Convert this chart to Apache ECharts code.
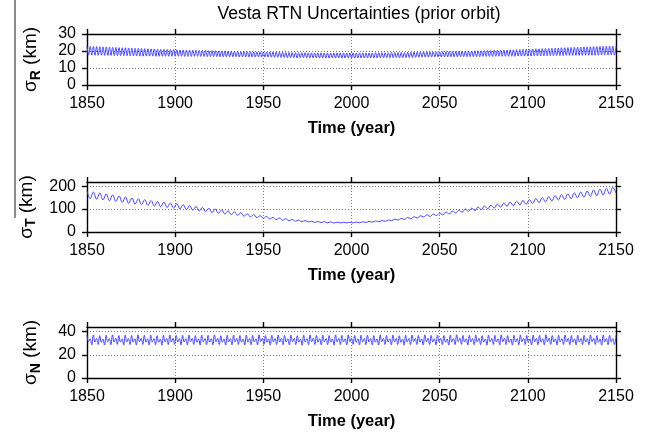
<!DOCTYPE html>
<html>
<head>
<meta charset="utf-8">
<script src="https://cdn.jsdelivr.net/npm/echarts@6/dist/echarts.min.js"></script>
<style>
  html, body { margin: 0; padding: 0; background: #fff; }
  #chart { width: 648px; height: 434px; }
</style>
</head>
<body>
<div id="chart"></div>
<script>
// Vesta 1-sigma position uncertainties (radial / transverse / normal), prior orbit
const TITLE = 'Vesta RTN Uncertainties (prior orbit)';
const YEAR_START = 1850;
const YEAR_END = 2150;
const YEAR_TICKS = [1850, 1900, 1950, 2000, 2050, 2100, 2150];
const X_NAME = 'Time (year)';
const Y_SUBSCRIPTS = ['R', 'T', 'N'];
const Y_TICKS = [[0, 10, 20, 30], [0, 100, 200], [0, 20, 40]];

// sigma_R (km), evenly sampled over 1850-2150
const SIGMA_R = [
  22.8,17.6,22.7,17.6,22.7,17.5,22.6,17.5,22.5,17.5,22.4,17.4,22.4,17.4,22.3,17.4,22.2,17.3,22.1,17.3,22.0,17.2,
  21.9,17.2,21.9,17.2,21.8,17.1,21.7,17.1,21.6,17.1,21.6,17.0,21.5,17.0,21.4,17.0,21.3,17.0,21.2,17.0,21.2,16.9,
  21.1,16.9,21.0,16.9,21.0,16.9,20.9,16.9,20.8,16.9,20.8,16.9,20.7,16.9,20.6,16.9,20.6,16.8,20.5,16.8,20.5,16.8,
  20.5,16.9,20.4,16.8,20.4,16.8,20.3,16.8,20.3,16.7,20.2,16.7,20.2,16.7,20.1,16.7,20.0,16.6,20.0,16.6,19.9,16.6,
  19.9,16.6,19.9,16.6,19.8,16.6,19.8,16.5,19.7,16.5,19.7,16.5,19.6,16.5,19.6,16.5,19.5,16.5,19.5,16.5,19.5,16.5,
  19.5,16.5,19.4,16.4,19.4,16.4,19.3,16.3,19.3,16.3,19.2,16.2,19.2,16.2,19.1,16.1,19.1,16.1,19.1,16.1,19.0,16.0,
  19.0,16.1,19.0,16.1,19.0,16.0,18.9,16.0,18.9,16.0,18.9,16.0,18.9,15.9,18.9,15.9,18.8,15.9,18.8,15.9,18.8,15.9,
  18.9,15.9,18.8,15.9,18.9,15.8,18.9,15.9,18.8,15.9,18.9,15.9,18.9,15.8,18.8,15.9,18.9,15.9,18.9,15.9,18.9,16.0,
  18.9,16.0,18.9,16.0,19.0,16.0,19.0,16.0,19.0,16.0,19.0,16.1,19.0,16.1,19.1,16.1,19.1,16.1,19.1,16.1,19.1,16.1,
  19.1,16.1,19.2,16.2,19.2,16.2,19.3,16.3,19.3,16.3,19.4,16.4,19.4,16.4,19.4,16.4,19.5,16.5,19.5,16.5,19.5,16.5,
  19.5,16.5,19.6,16.5,19.6,16.5,19.7,16.6,19.7,16.6,19.8,16.6,19.8,16.6,19.9,16.7,19.9,16.7,20.0,16.7,20.0,16.7,
  20.1,16.7,20.1,16.7,20.2,16.8,20.2,16.8,20.3,16.8,20.3,16.8,20.4,16.9,20.4,16.9,20.5,16.9,20.6,16.9,20.6,16.9,
  20.7,16.9,20.7,16.9,20.8,17.0,20.9,17.0,20.9,17.0,21.0,17.0,21.1,17.0,21.2,17.1,21.3,17.1,21.3,17.1,21.4,17.1,
  21.5,17.2,21.5,17.2,21.6,17.2,21.7,17.3,21.8,17.3,21.9,17.3,21.9,17.4,22.0,17.4,22.1,17.4,22.2,17.4,22.2,17.4,
  22.3,17.4,22.4,17.5,22.4,17.5,22.5,17.5,22.6,17.5,22.6,17.5,22.7,17.6,22.8,17.6,22.8,17.6,22.9,17.6,22.9,17.6,
  22.7
];

// sigma_T (km), evenly sampled over 1850-2150
const SIGMA_T = [
  178,146,174,143,170,140,166,136,162,133,
  157,129,153,125,148,122,145,119,141,116,
  137,113,133,110,130,107,126,104,123,101,
  119,98,115,95,111,91,107,89,103,85,
  100,82,96,79,92,76,88,73,84,69,
  79,66,76,63,71,60,68,57,64,54,
  61,51,58,49,55,47,52,45,50,44,
  47,42,46,41,45,40,44,39,42.5,39.5,
  42.5,39.5,42.5,39.5,43.5,40.5,44.5,41.5,46,43,
  48,45,50,46.5,52.5,49.5,56,52,59,55,
  63.5,57.5,66.5,61,71,65,75,68,78.5,71.5,
  83,75,87,79,91.5,82.5,95.5,86,100,90,
  104,93.5,108.5,97.5,113,101,117,104.5,121.5,108.5,
  126,112,130,115,133.5,118.5,137.5,121,141.5,124.5,
  146,128,150,131.5,154.5,135.5,159,139,163,141.5,
  166.5,145,171,149,174.5,151.5,178.5,155,183,158,
  186.5,161.5,190.5,165,195,169
];

// sigma_N (km), evenly sampled over 1850-2150
const SIGMA_N = [
  36.8,31.2,33.9,28.6, 37.1,31.0,34.2,28.9, 36.5,30.8,33.7,28.4, 36.9,31.3,34.0,28.7, 37.2,31.1,34.3,29.0,
  36.6,30.9,33.8,28.5, 37.0,31.2,34.1,28.8, 36.7,31.0,33.9,28.4, 37.3,31.4,34.2,28.9, 36.8,30.9,33.8,28.6,
  37.0,31.1,34.0,28.7, 36.5,30.8,33.6,28.3, 36.9,31.2,34.1,28.8, 37.2,31.0,34.3,29.0, 36.7,31.1,33.9,28.5,
  36.9,31.0,34.0,28.6, 37.1,31.3,34.2,28.9, 36.6,30.9,33.7,28.4, 37.0,31.2,34.1,28.7, 36.8,31.0,33.9,28.6,
  37.2,31.3,34.3,28.9, 36.5,30.8,33.7,28.4, 36.9,31.1,34.0,28.7, 37.1,31.2,34.2,28.8, 36.7,30.9,33.8,28.5,
  37.0,31.1,34.0,28.7, 36.8,31.0,33.9,28.6, 37.3,31.4,34.3,29.0, 36.6,30.8,33.7,28.4, 36.9,31.2,34.1,28.8,
  37.1,31.0,34.2,28.7, 36.7,31.1,33.8,28.5, 37.0,31.2,34.1,28.8, 36.5,30.9,33.6,28.3, 36.9,31.1,34.0,28.7,
  37.2,31.3,34.3,28.9, 36.8,30.9,33.9,28.6, 37.0,31.2,34.0,28.7, 36.6,31.0,33.7,28.4, 37.1,31.2,34.2,28.8,
  36.8,31.1,33.9,28.6, 37.3,31.3,34.3,29.0, 36.7,30.8,33.8,28.5, 36.9,31.2,34.1,28.7, 37.0,31.0,34.0,28.6,
  36.6,30.9,33.7,28.4, 37.2,31.3,34.2,28.9, 36.8,31.1,33.9,28.6, 37.0,31.2,34.1,28.8, 36.5,30.8,33.6,28.3,
  36.9,31.1,34.0,28.7, 37.1,31.3,34.2,28.9, 36.7,30.9,33.8,28.5, 37.2,31.2,34.3,28.8, 36.8,31.0,33.9,28.6,
  37.0,31.2,34.1,28.7, 36.6,30.8,33.7,28.4, 36.9,31.1,34.0,28.8, 37.3,31.4,34.3,29.0, 36.7,31.0,33.8,28.5,
  36.9,31.2,34.1,28.7, 37.1,31.0,34.2,28.8, 36.5,30.9,33.6,28.4, 37.0,31.3,34.1,28.9, 36.8,31.1,33.9,28.6,
  37.2,31.2,34.3,28.8, 36.6,30.8,33.7,28.4, 36.9,31.1,34.0,28.7, 37.1,31.3,34.2,28.9, 36.7,31.0,33.8,28.5,
  37.0,31.1,34.1,28.7, 36.8,30.9,33.9,28.6, 37.3,31.3,34.3,29.0, 36.6,31.0,33.7,28.4, 36.9,31.2,34.0,28.8,
  37.1,31.1,34.2,28.7, 36.7,30.9,33.8,28.5, 37.0,31.2,34.1,28.8, 36.8,31.0,33.9,28.6, 37.2,31.3,34.2,28.9,
  36.6,30.8,33.7,28.4, 37.0,31.2,34.1,28.7, 36.9,31.1,34.0,28.8,
  36.7
];

const SERIES = [SIGMA_R, SIGMA_T, SIGMA_N];

// Per-panel y axis ranges
const Y_MAX = [30, 218, 44];
const Y_INTERVAL = [10, 100, 20];

// Layout (px)
const GRID_LEFT = 87;
const GRID_RIGHT = 32;
const GRID_TOPS = [34, 182, 327];
const GRID_HEIGHTS = [51, 50, 51];

const FONT = '"Liberation Sans", Arial, Helvetica, sans-serif';
const LINE_COLOR = '#4444ff';

function toXY(values) {
  const step = (YEAR_END - YEAR_START) / (values.length - 1);
  return values.map((v, i) => [YEAR_START + i * step, v]);
}

const axisLineStyle = { color: '#000', width: 1.4 };
const gridLineStyle = { color: '#7a7a7a', width: 1, type: [1, 2] };
function tickStyle(custom) {
  const t = { show: true, inside: false, length: 5, lineStyle: { color: '#000', width: 1.4 } };
  if (custom) t.customValues = custom;
  return t;
}

const grids = [], xAxes = [], yAxes = [], series = [];

SERIES.forEach((vals, g) => {
  grids.push({
    left: GRID_LEFT, right: GRID_RIGHT, top: GRID_TOPS[g], height: GRID_HEIGHTS[g],
    containLabel: false
  });
  // bottom axis with labels
  xAxes.push({
    type: 'value', gridIndex: g, position: 'bottom',
    min: YEAR_START, max: YEAR_END, interval: 50,
    axisLine: { show: true, onZero: false, lineStyle: axisLineStyle },
    axisTick: tickStyle(),
    axisLabel: { show: true, fontSize: 16, color: '#000', fontFamily: FONT, margin: 11,
                 formatter: v => (YEAR_TICKS.indexOf(v) >= 0 ? String(v) : '') },
    splitLine: { show: true, lineStyle: gridLineStyle },
    name: X_NAME, nameLocation: 'middle', nameGap: 35,
    nameTextStyle: { fontSize: 16.5, fontWeight: 'bold', color: '#000', fontFamily: FONT }
  });
  // top mirror axis (ticks only)
  xAxes.push({
    type: 'value', gridIndex: g, position: 'top',
    min: YEAR_START, max: YEAR_END, interval: 50,
    axisLine: { show: true, onZero: false, lineStyle: axisLineStyle },
    axisTick: tickStyle(),
    axisLabel: { show: false },
    splitLine: { show: false }
  });
  // left axis with labels
  yAxes.push({
    type: 'value', gridIndex: g, position: 'left',
    min: 0, max: Y_MAX[g], interval: Y_INTERVAL[g],
    axisLine: { show: true, onZero: false, lineStyle: axisLineStyle },
    axisTick: tickStyle(Y_TICKS[g]),
    axisLabel: { show: true, fontSize: 16, color: '#000', fontFamily: FONT, margin: 11,
                 customValues: Y_TICKS[g] },
    splitLine: { show: true, lineStyle: gridLineStyle },
    name: '{s|σ}{sub|' + Y_SUBSCRIPTS[g] + '}{s| (km)}',
    nameLocation: 'middle', nameRotate: 90, nameGap: 44,
    nameTextStyle: {
      color: '#000', fontFamily: FONT,
      rich: {
        s: { fontSize: 19, color: '#000', fontFamily: FONT },
        sub: { fontSize: 14, fontWeight: 'bold', color: '#000', fontFamily: FONT, padding: [10, 0, 0, 0] }
      }
    }
  });
  // right mirror axis (ticks only)
  yAxes.push({
    type: 'value', gridIndex: g, position: 'right',
    min: 0, max: Y_MAX[g], interval: Y_INTERVAL[g],
    axisLine: { show: true, onZero: false, lineStyle: axisLineStyle },
    axisTick: tickStyle(Y_TICKS[g]),
    axisLabel: { show: false },
    splitLine: { show: false }
  });
  series.push({
    type: 'line', xAxisIndex: g * 2, yAxisIndex: g * 2,
    data: toXY(vals), showSymbol: false, symbol: 'none', smooth: 0.4,
    lineStyle: { color: LINE_COLOR, width: 1 },
    animation: false, z: 1
  });
});

const chart = echarts.init(document.getElementById('chart'), null, { renderer: 'canvas' });
chart.setOption({
  animation: false,
  backgroundColor: '#fff',
  title: {
    text: TITLE, left: 354, top: 0, textAlign: 'center',
    textStyle: { fontSize: 17.6, fontWeight: 'normal', color: '#000', fontFamily: FONT }
  },
  grid: grids,
  xAxis: xAxes,
  yAxis: yAxes,
  series: series,
  graphic: [{
    type: 'line', shape: { x1: 15, y1: 0, x2: 15, y2: 218 },
    style: { stroke: '#8c8c8c', lineWidth: 2 }, silent: true
  }]
});
</script>
</body>
</html>
